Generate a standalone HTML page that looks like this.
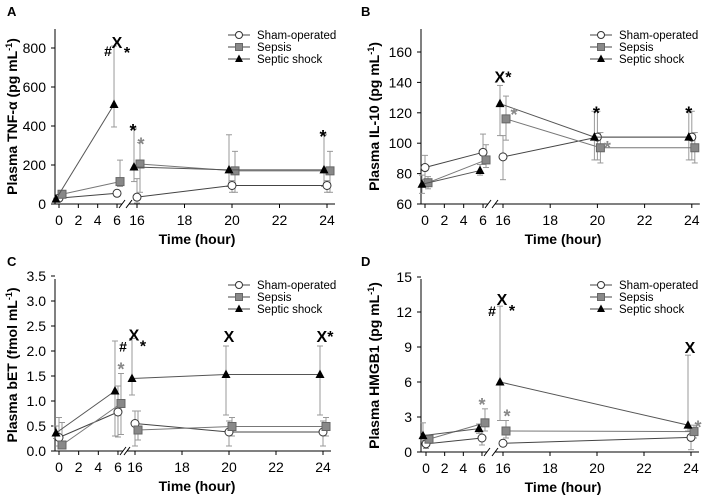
<!DOCTYPE html>
<html><head><meta charset="utf-8"><style>
html,body{margin:0;padding:0;background:#fff}
svg text{font-family:"Liberation Sans",Arial,sans-serif}
</style></head><body>
<svg id="fig" width="708" height="499" viewBox="0 0 708 499" xmlns="http://www.w3.org/2000/svg"></svg>
<script>
const NS="http://www.w3.org/2000/svg";
const svg=document.getElementById('fig');
function mk(tag,attrs,parent,txt){const e=document.createElementNS(NS,tag);for(const k in attrs)e.setAttribute(k,attrs[k]);if(txt!==undefined)e.textContent=txt;(parent||svg).appendChild(e);return e;}

// ---- data ----
const timesA=[0,6,16,20,24];
const shamA=[30,55,35,95,95], shamAlo=[20,40,5,60,60], shamAhi=[40,70,130,120,120];
const sepsA=[50,115,205,170,170], sepsAlo=[40,90,60,60,60], sepsAhi=[60,225,315,270,270];
const shockA=[25,510,190,175,175], shockAlo=[20,395,115,90,90], shockAhi=[30,810,385,355,355];
const ticksYA=[0,200,400,600,800];

const timesB=[0,6,16,20,24];
const shamB=[84,94,91,104,104], shamBlo=[76,86,76,89,89], shamBhi=[92,106,105,121,121];
const sepsB=[74,89,116,97,97], sepsBlo=[70,84,102,87,87], sepsBhi=[78,99,131,107,107];
const shockB=[73,82,126,104,104], shockBlo=[67,79,105,89,89], shockBhi=[79,86,138,121,121];
const ticksYB=[60,80,100,120,140,160];

const timesC=[0,6,16,20,24];
const shamC=[0.27,0.78,0.55,0.38,0.38], shamClo=[0.1,0.28,0.1,0.1,0.1], shamChi=[0.67,1.3,0.8,0.6,0.6];
const sepsC=[0.12,0.95,0.42,0.49,0.49], sepsClo=[0.05,0.33,0.22,0.3,0.3], sepsChi=[0.57,1.55,0.8,0.67,0.67];
const shockC=[0.36,1.2,1.45,1.53,1.53], shockClo=[0.25,0.3,1.12,0.72,0.72], shockChi=[0.5,2.2,2.25,2.1,2.1];
const ticksYC=[0,0.5,1,1.5,2,2.5,3,3.5];

const timesD=[0,6,16,24];
const shamD=[0.7,1.2,0.75,1.25], shamDlo=[0.3,0.6,0.5,0.2], shamDhi=[1.0,1.8,1.0,2.0];
const sepsD=[1.1,2.5,1.8,1.75], sepsDlo=[0.8,1.8,1.2,1.2], sepsDhi=[1.4,3.7,2.7,2.3];
const shockD=[1.4,2.0,6.0,2.3], shockDlo=[1.0,1.6,2.7,1.8], shockDhi=[2.5,2.4,12.5,8.3];
const ticksYD=[0,3,6,9,12,15];

const ticksX=[0,2,4,6,16,18,20,22,24];

function panel(cfg){
  const g=mk('g',{});
  const {ox,oy}=cfg;
  function X(t){return t<=6? ox+cfg.x0+t*cfg.s1 : ox+cfg.x16+(t-16)*cfg.s2;}
  function Y(v){return oy+cfg.yb-(v-cfg.ymin)/(cfg.ymax-cfg.ymin)*(cfg.yb-cfg.yt);}
  const ax=ox+cfg.ax, yb=oy+cfg.yb;
  let t=mk('text',{x:ox+7,y:oy+16,'font-size':13,'font-weight':'bold'},g,cfg.letter);
  
  // y axis
  let l=mk('line',{x1:ax,y1:oy+29,x2:ax,y2:yb,stroke:'#000','stroke-width':1},g);
  
  cfg.ticksY.forEach(v=>{
    mk('line',{x1:ax-4,y1:Y(v),x2:ax,y2:Y(v),stroke:'#000'},g);
    let tt=mk('text',{x:ax-9,y:Y(v)+5,'font-size':14,'text-anchor':'end'},g,cfg.fmt(v));
    
  });
  // x axis with break
  mk('line',{x1:ax,y1:yb,x2:X(6)+5,y2:yb,stroke:'#000'},g);
  mk('line',{x1:X(16)-8,y1:yb,x2:X(24)+8,y2:yb,stroke:'#000'},g);
  mk('line',{x1:X(6)+2,y1:yb+4,x2:X(6)+8,y2:yb-4,stroke:'#000'},g);
  mk('line',{x1:X(16)-11,y1:yb+4,x2:X(16)-5,y2:yb-4,stroke:'#000'},g);
  cfg.ticksX.forEach(v=>{
    mk('line',{x1:X(v),y1:yb,x2:X(v),y2:yb+4,stroke:'#000'},g);
    let tt=mk('text',{x:X(v),y:yb+21,'font-size':14,'text-anchor':'middle'},g,String(v));
    
  });
  let xt=mk('text',{x:ox+cfg.xtx,y:yb+40,'font-size':14,'font-weight':'bold','text-anchor':'middle'},g,'Time (hour)');
  
  const cy=(oy+29+yb)/2;
  let yt=mk('text',{x:ox+cfg.ytx,y:cy,'font-size':14,'font-weight':'bold','text-anchor':'middle',transform:`rotate(-90 ${ox+cfg.ytx} ${cy})`},g);
  
  yt.innerHTML=cfg.ytitle;
  // series
  const series=[
    {n:'sham',v:cfg.sham,lo:cfg.shamlo,hi:cfg.shamhi,dx:0,line:'#444'},
    {n:'sepsis',v:cfg.seps,lo:cfg.sepslo,hi:cfg.sepshi,dx:3,line:'#777'},
    {n:'septic-shock',v:cfg.shock,lo:cfg.shocklo,hi:cfg.shockhi,dx:-3,line:'#555'}
  ];
  series.forEach(s=>{
    cfg.times.forEach((tm,i)=>{
      const x=X(tm)+s.dx;
      mk('line',{x1:x,y1:Y(s.lo[i]),x2:x,y2:Y(s.hi[i]),stroke:'#999','stroke-width':1},g);
      mk('line',{x1:x-3,y1:Y(s.lo[i]),x2:x+3,y2:Y(s.lo[i]),stroke:'#999'},g);
      mk('line',{x1:x-3,y1:Y(s.hi[i]),x2:x+3,y2:Y(s.hi[i]),stroke:'#999'},g);
    });
  });
  series.forEach(s=>{
    const seg1=[],seg2=[];
    cfg.times.forEach((tm,i)=>{(tm<=6?seg1:seg2).push((X(tm)+s.dx)+','+Y(s.v[i]));});
    [seg1,seg2].forEach(sg=>{let p=mk('polyline',{points:sg.join(' '),fill:'none',stroke:s.line,'stroke-width':1},g);
      });
    cfg.times.forEach((tm,i)=>{
      const x=X(tm)+s.dx,y=Y(s.v[i]);let m;
      if(s.n==='sham')m=mk('circle',{cx:x,cy:y,r:4,fill:'#fff',stroke:'#333'},g);
      else if(s.n==='sepsis')m=mk('rect',{x:x-4,y:y-4,width:8,height:8,fill:'#888',stroke:'#666'},g);
      else m=mk('polygon',{points:`${x},${y-5} ${x-4.5},${y+3.5} ${x+4.5},${y+3.5}`,fill:'#000'},g);
      
    });
  });
  // annotations
  cfg.ann.forEach(a=>{
    let tt=mk('text',{x:X(a[0])+a[3],y:Y(a[1])+a[4],'font-size':a[5]||15,'font-weight':'bold','text-anchor':'middle',fill:a[6]||'#000'},g,a[2]);
    
  });
  // legend
  const lg=mk('g',{},g);
  const lx=ox+cfg.lx, ly=oy+35;
  ['Sham-operated','Sepsis','Septic shock'].forEach((nm,i)=>{
    const y=ly+i*12;
    mk('line',{x1:lx,y1:y,x2:lx+22,y2:y,stroke:'#444'},lg);
    if(i===0)mk('circle',{cx:lx+11,cy:y,r:3.5,fill:'#fff',stroke:'#333'},lg);
    if(i===1)mk('rect',{x:lx+7.5,y:y-3.5,width:7,height:7,fill:'#888',stroke:'#666'},lg);
    if(i===2)mk('polygon',{points:`${lx+11},${y-4.5} ${lx+7},${y+3} ${lx+15},${y+3}`,fill:'#000'},lg);
    let tt=mk('text',{x:lx+29,y:y+4,'font-size':11.5},lg,nm);
    
  });
}
const fmtInt=v=>String(v), fmt1=v=>v.toFixed(1);
panel({name:'panel-a-tnf',letter:'A',ox:0,oy:0,ax:55,x0:59,s1:9.67,x16:137,s2:23.75,yb:204,yt:48,ymin:0,ymax:800,
  ticksY:ticksYA,ticksX:ticksX,fmt:fmtInt,xtx:197,ytx:17,lx:228,
  ytitle:'Plasma TNF-α (pg mL<tspan dy="-5" font-size="9">-1</tspan><tspan dy="5">)</tspan>',
  times:timesA,sham:shamA,shamlo:shamAlo,shamhi:shamAhi,seps:sepsA,sepslo:sepsAlo,sepshi:sepsAhi,shock:shockA,shocklo:shockAlo,shockhi:shockAhi,
  ann:[[6,810,'#',-9,10,14],[6,810,'X',0,2,16],[6,810,'*',10,12,16],[16,385,'*',-4,8,18],[16,315,'*',4,8,18,'#888'],[24,355,'*',-4,8,18]]});
panel({name:'panel-b-il10',letter:'B',ox:354,oy:0,ax:67,x0:71,s1:9.67,x16:149,s2:23.6,yb:204,yt:52,ymin:60,ymax:160,
  ticksY:ticksYB,ticksX:ticksX,fmt:fmtInt,xtx:209,ytx:25,lx:236,
  ytitle:'Plasma IL-10 (pg mL<tspan dy="-5" font-size="9">-1</tspan><tspan dy="5">)</tspan>',
  times:timesB,sham:shamB,shamlo:shamBlo,shamhi:shamBhi,seps:sepsB,sepslo:sepsBlo,sepshi:sepsBhi,shock:shockB,shockhi:shockBhi,shocklo:shockBlo,
  ann:[[16,138,'X*',0,-3,16],[16,116,'*',11,2,18,'#888'],[20,121,'*',-1,8,18],[20,97,'*',10,6,18,'#888'],[24,121,'*',-3,8,18]]});
panel({name:'panel-c-bet',letter:'C',ox:0,oy:250,ax:55,x0:59,s1:9.83,x16:135,s2:23.5,yb:201,yt:26,ymin:0,ymax:3.5,
  ticksY:ticksYC,ticksX:ticksX,fmt:fmt1,xtx:197,ytx:17,lx:228,
  ytitle:'Plasma bET (fmol mL<tspan dy="-5" font-size="9">-1</tspan><tspan dy="5">)</tspan>',
  times:timesC,sham:shamC,shamlo:shamClo,shamhi:shamChi,seps:sepsC,sepslo:sepsClo,sepshi:sepsChi,shock:shockC,shocklo:shockClo,shockhi:shockChi,
  ann:[[16,2.25,'#',-12,13,14],[16,2.25,'X',-1,2,16],[16,2.25,'*',8,13,16],[6,1.55,'*',3,2,18,'#888'],[20,2.1,'X',0,-4,16],[24,2.1,'X*',2,-4,16]]});
panel({name:'panel-d-hmgb1',letter:'D',ox:354,oy:250,ax:67,x0:72,s1:9.33,x16:149,s2:23.5,yb:202,yt:27,ymin:0,ymax:15,
  ticksY:ticksYD,ticksX:ticksX,fmt:fmtInt,xtx:209,ytx:25,lx:236,
  ytitle:'Plasma HMGB1 (pg mL<tspan dy="-5" font-size="9">-1</tspan><tspan dy="5">)</tspan>',
  times:timesD,sham:shamD,shamlo:shamDlo,shamhi:shamDhi,seps:sepsD,sepslo:sepsDlo,sepshi:sepsDhi,shock:shockD,shocklo:shockDlo,shockhi:shockDhi,
  ann:[[16,12.5,'#',-11,10,14],[16,12.5,'X',-1,-1,16],[16,12.5,'*',9,10,16],[6,3.7,'*',0,2,18,'#888'],[16,2.7,'*',4,2,18,'#888'],[24,8.3,'X',-1,-2,16],[24,1.75,'*',7,2,18,'#888']]});
</script>
</body></html>
